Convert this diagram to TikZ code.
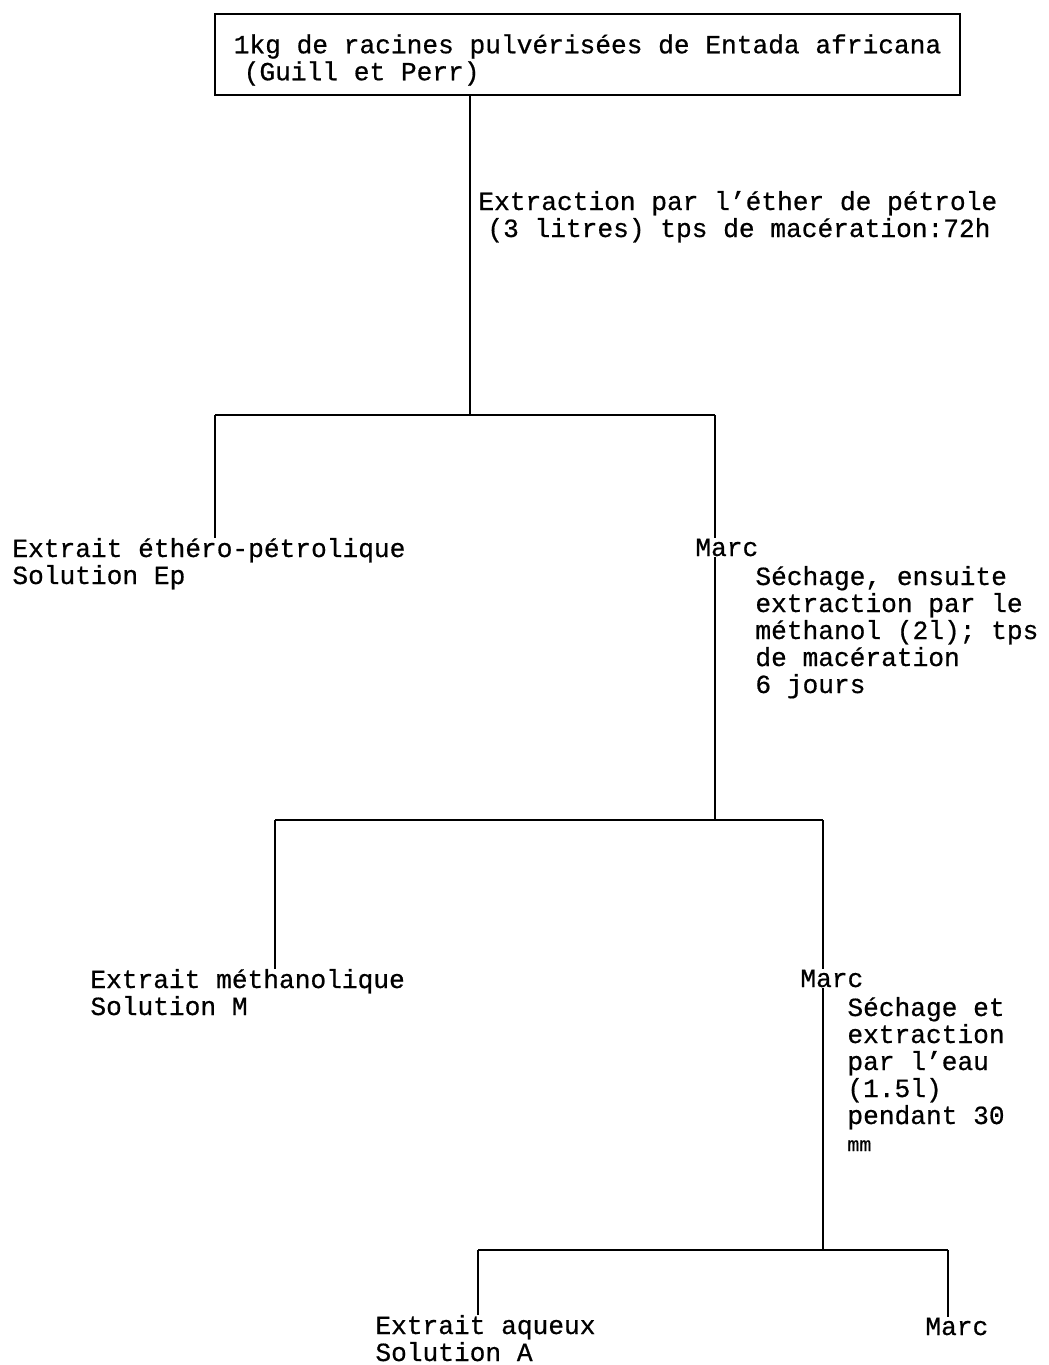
\documentclass[tikz,border=0pt]{standalone}
\usepackage{fontspec}
\usepackage{tikz}
\usetikzlibrary{positioning,calc}
\newfontfamily\monofont[FakeBold=0.6]{Liberation Mono}
\newcommand{\flowfont}{\monofont\fontsize{13.1pt}{13.5pt}\selectfont}
\tikzset{
  srcbox/.style={draw, line width=0.9pt, rectangle, minimum width=372.5pt, minimum height=40.5pt, align=left, inner sep=0pt, font=\flowfont},
  lbl/.style={anchor=base west, inner sep=0pt, align=left, font=\flowfont},
  link/.style={line width=0.75pt}
}
\begin{document}
\begin{tikzpicture}[x=0.5pt,y=-0.5pt]
  \useasboundingbox (0,0) rectangle (1049,1365);
  \node[srcbox] (src) at (587.5,54.5) {\rule{0pt}{15pt}1kg de racines pulvérisées de Entada africana\\\hspace{5pt}(Guill et Perr)};
  \node[lbl] (ext1) at (478,237) {Extraction par l’éther de pétrole\\\hspace{4.5pt}(3 litres) tps de macération:72h};
  \node[lbl] (ep) at (12,584) {Extrait éthéro-pétrolique\\Solution Ep};
  \node[lbl] (marc1) at (695,556) {Marc};
  \node[lbl] (ext2) at (755,693) {Séchage, ensuite\\extraction par le\\méthanol (2l); tps\\de macération\\6 jours};
  \node[lbl] (meth) at (90,1015) {Extrait méthanolique\\Solution M};
  \node[lbl] (marc2) at (800,987) {Marc};
  \node[lbl] (ext3) at (847,1151) {Séchage et\\extraction\\par l’eau\\(1.5l)\\pendant 30\\{\fontsize{10pt}{13.5pt}\selectfont mm}};
  \node[lbl] (aq) at (375,1361) {Extrait aqueux\\Solution A};
  \node[lbl] (marc3) at (925,1335) {Marc};
  \coordinate (j1) at (470,415);
  \coordinate (b1l) at (215,415);
  \coordinate (b1r) at (715,415);
  \coordinate (b2l) at (275,820);
  \coordinate (b2r) at (823,820);
  \coordinate (j2) at (715,820);
  \coordinate (b3l) at (478,1250);
  \coordinate (b3r) at (948,1250);
  \coordinate (j3) at (823,1250);
  \draw[link] (src.south -| j1) -- (j1);
  \draw[link] (b1l) -- (b1r);
  \draw[link] (b1l) -- (b1l |- ep.north);
  \draw[link] (b1r) -- (b1r |- marc1.north);
  \draw[link] (b1r |- marc1.south) -- (j2);
  \draw[link] (b2l) -- (b2r);
  \draw[link] (b2l) -- (b2l |- meth.north);
  \draw[link] (b2r) -- (b2r |- marc2.north);
  \draw[link] (b2r |- marc2.south) -- (j3);
  \draw[link] (b3l) -- (b3r);
  \draw[link] (b3l) -- (b3l |- aq.north);
  \draw[link] (b3r) -- (b3r |- marc3.north);
\end{tikzpicture}
\end{document}
